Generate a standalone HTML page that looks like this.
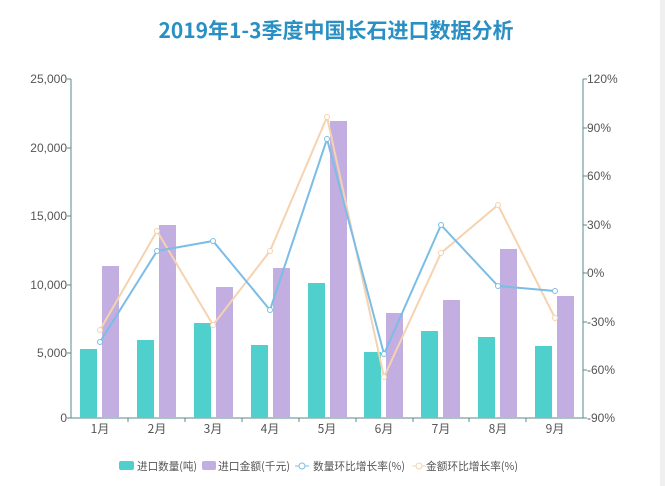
<!DOCTYPE html>
<html><head><meta charset="utf-8"><style>
html,body{margin:0;padding:0;background:#fff;}
svg{display:block;font-family:"Liberation Sans","Noto Sans CJK SC",sans-serif;}
</style></head><body>
<svg width="665" height="486" viewBox="0 0 665 486" xmlns="http://www.w3.org/2000/svg">
<rect width="665" height="486" fill="#fff"/>
<rect x="660" y="0" width="5" height="486" fill="#f0f0f0"/>
<text x="336" y="38" text-anchor="middle" font-size="21" font-weight="bold" fill="#2a8fc2" font-family="'Noto Sans CJK SC',sans-serif">2019年1-3季度中国长石进口数据分析</text>
<g font-size="12" fill="#555">
<text x="67" y="83" text-anchor="end">25,000</text>
<text x="67" y="152" text-anchor="end">20,000</text>
<text x="67" y="220" text-anchor="end">15,000</text>
<text x="67" y="289" text-anchor="end">10,000</text>
<text x="67" y="357" text-anchor="end">5,000</text>
<text x="67" y="422" text-anchor="end">0</text>
<text x="587" y="83">120%</text>
<text x="587" y="132">90%</text>
<text x="587" y="180">60%</text>
<text x="587" y="229">30%</text>
<text x="587" y="277">0%</text>
<text x="587" y="326">-30%</text>
<text x="587" y="374">-60%</text>
<text x="587" y="422">-90%</text>
</g>
<g stroke="#5a8a8a" stroke-width="1">
<line x1="71" y1="79" x2="71" y2="418"/>
<line x1="583" y1="79" x2="583" y2="418"/>
<line x1="71" y1="418" x2="583" y2="418"/>
<line x1="67" y1="79" x2="71" y2="79"/><line x1="67" y1="148" x2="71" y2="148"/><line x1="67" y1="216" x2="71" y2="216"/><line x1="67" y1="285" x2="71" y2="285"/><line x1="67" y1="353" x2="71" y2="353"/><line x1="67" y1="418" x2="71" y2="418"/>
<line x1="583" y1="79" x2="587" y2="79"/><line x1="583" y1="128" x2="587" y2="128"/><line x1="583" y1="176" x2="587" y2="176"/><line x1="583" y1="225" x2="587" y2="225"/><line x1="583" y1="273" x2="587" y2="273"/><line x1="583" y1="322" x2="587" y2="322"/><line x1="583" y1="370" x2="587" y2="370"/><line x1="583" y1="418" x2="587" y2="418"/>
<line x1="128" y1="418" x2="128" y2="422"/><line x1="185" y1="418" x2="185" y2="422"/><line x1="242" y1="418" x2="242" y2="422"/><line x1="299" y1="418" x2="299" y2="422"/><line x1="356" y1="418" x2="356" y2="422"/><line x1="413" y1="418" x2="413" y2="422"/><line x1="469" y1="418" x2="469" y2="422"/><line x1="526" y1="418" x2="526" y2="422"/>
</g>
<g fill="#4fd0cc">
<rect x="80" y="349" width="17" height="69"/>
<rect x="137" y="340" width="17" height="78"/>
<rect x="194" y="323" width="17" height="95"/>
<rect x="251" y="345" width="17" height="73"/>
<rect x="308" y="283" width="17" height="135"/>
<rect x="364" y="352" width="17" height="66"/>
<rect x="421" y="331" width="17" height="87"/>
<rect x="478" y="337" width="17" height="81"/>
<rect x="535" y="346" width="17" height="72"/>
</g>
<g fill="#c2aee0">
<rect x="102" y="266" width="17" height="152"/>
<rect x="159" y="225" width="17" height="193"/>
<rect x="216" y="287" width="17" height="131"/>
<rect x="273" y="268" width="17" height="150"/>
<rect x="330" y="121" width="17" height="297"/>
<rect x="386" y="313" width="17" height="105"/>
<rect x="443" y="300" width="17" height="118"/>
<rect x="500" y="249" width="17" height="169"/>
<rect x="557" y="296" width="17" height="122"/>
</g>
<polyline fill="none" stroke="#f5d3b0" stroke-width="2" points="100,330 157,231 213,325 270,251 327,117 384,377 441,253 498,205 555,318"/>
<polyline fill="none" stroke="#7bbde6" stroke-width="2" points="100,342 157,251 213,241 270,310 327,139 384,354 441,225 498,286 555,291"/>
<g fill="#fff" stroke="#f5d3b0" stroke-width="1">
<circle cx="100" cy="330" r="2.5"/><circle cx="157" cy="231" r="2.5"/><circle cx="213" cy="325" r="2.5"/><circle cx="270" cy="251" r="2.5"/><circle cx="327" cy="117" r="2.5"/><circle cx="384" cy="377" r="2.5"/><circle cx="441" cy="253" r="2.5"/><circle cx="498" cy="205" r="2.5"/><circle cx="555" cy="318" r="2.5"/>
</g>
<g fill="#fff" stroke="#7bbde6" stroke-width="1">
<circle cx="100" cy="342" r="2.5"/><circle cx="157" cy="251" r="2.5"/><circle cx="213" cy="241" r="2.5"/><circle cx="270" cy="310" r="2.5"/><circle cx="327" cy="139" r="2.5"/><circle cx="384" cy="354" r="2.5"/><circle cx="441" cy="225" r="2.5"/><circle cx="498" cy="286" r="2.5"/><circle cx="555" cy="291" r="2.5"/>
</g>
<g font-size="12" fill="#555" text-anchor="middle" font-family="'Noto Sans CJK SC',sans-serif">
<text x="100" y="433">1月</text><text x="157" y="433">2月</text><text x="213" y="433">3月</text><text x="270" y="433">4月</text><text x="327" y="433">5月</text><text x="384" y="433">6月</text><text x="441" y="433">7月</text><text x="498" y="433">8月</text><text x="555" y="433">9月</text>
</g>
<g font-size="11" fill="#555" font-family="'Noto Sans CJK SC',sans-serif">
<rect x="119" y="461" width="15" height="9" rx="2" fill="#4fd0cc"/>
<text x="137" y="470" textLength="60" lengthAdjust="spacingAndGlyphs">进口数量(吨)</text>
<rect x="202" y="461" width="14" height="9" rx="2" fill="#c2aee0"/>
<text x="218" y="470" textLength="72" lengthAdjust="spacingAndGlyphs">进口金额(千元)</text>
<line x1="295" y1="466" x2="309" y2="466" stroke="#7bbde6"/><circle cx="302" cy="466" r="3" fill="#fff" stroke="#7bbde6"/>
<text x="313" y="470" textLength="92" lengthAdjust="spacingAndGlyphs">数量环比增长率(%)</text>
<line x1="412" y1="466" x2="426" y2="466" stroke="#f5d3b0"/><circle cx="419" cy="466" r="3" fill="#fff" stroke="#f5d3b0"/>
<text x="426" y="470" textLength="92" lengthAdjust="spacingAndGlyphs">金额环比增长率(%)</text>
</g>
</svg>
</body></html>
